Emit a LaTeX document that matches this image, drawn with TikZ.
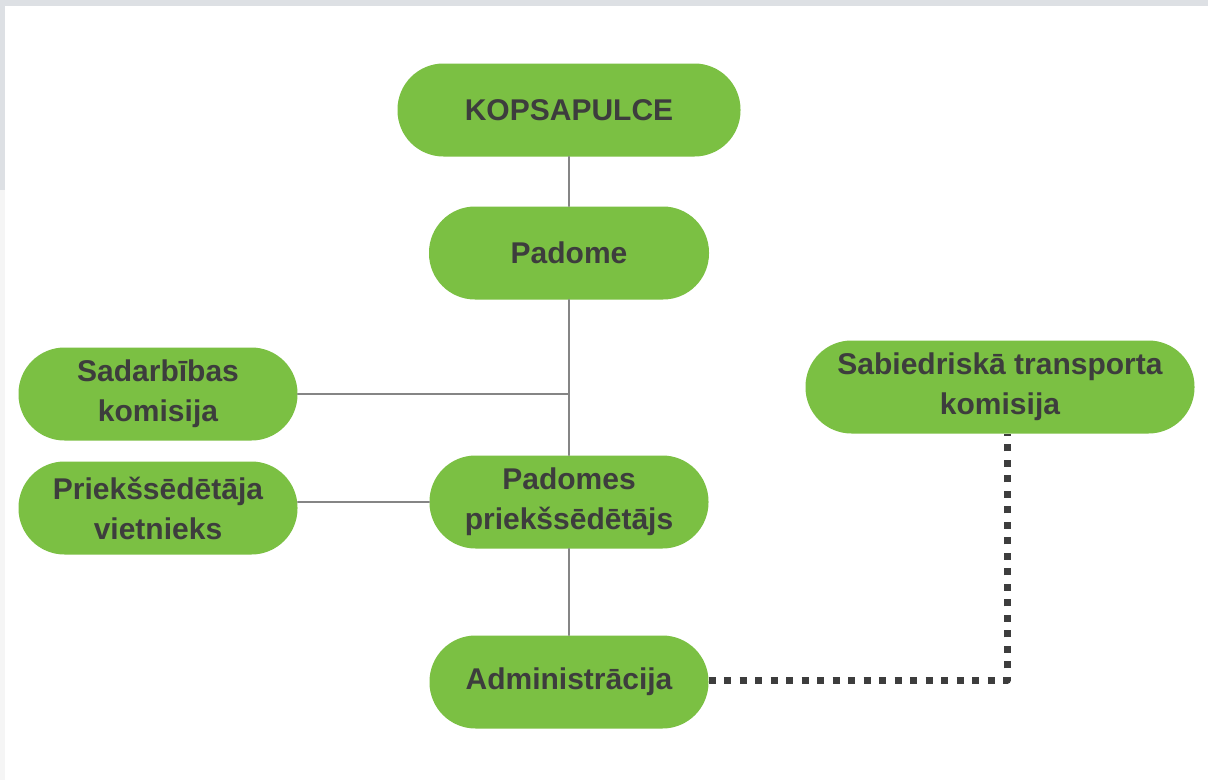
\documentclass[tikz,border=0pt]{standalone}
\usepackage{fontspec}
\setmainfont{Liberation Sans}
\definecolor{boxgreen}{HTML}{7BC043}
\definecolor{textgray}{HTML}{3D3D3D}
\definecolor{linegray}{HTML}{858585}
\definecolor{framegray}{HTML}{DDE0E4}
\begin{document}
\begin{tikzpicture}[line cap=round, line join=round, x=1pt, y=-1pt,
    box/.style={fill=boxgreen, rounded corners=46pt, minimum height=93pt, inner sep=0pt,
        align=center, text=textgray, font=\fontsize{30}{40}\selectfont\bfseries},
    link/.style={draw=linegray, line width=1.5pt},
    dotlink/.style={draw=textgray, line cap=butt, line width=7pt, dash pattern=on 7pt off 8.5pt}]

    \useasboundingbox (0,0) rectangle (1208,780);
    \fill[white] (0,0) rectangle (1208,780);
    \fill[framegray] (0,0) rectangle (1208,6);
    \fill[framegray] (0,0) rectangle (5,190);
    \fill[black!4] (0,190) rectangle (5,780);

    \node[box, minimum width=343pt] (kop) at (569,110) {KOPSAPULCE};
    \node[box, minimum width=280pt] (padome) at (569,253) {Padome};
    \node[box, minimum width=279pt] (sadarb) at (158,394) {Sadarbības\\komisija};
    \node[box, minimum width=279pt] (vietn) at (158,508) {Priekšsēdētāja\\vietnieks};
    \node[box, minimum width=279pt] (prieks) at (569,502) {Padomes\\priekšsēdētājs};
    \node[box, minimum width=279pt] (admin) at (569,682) {Administrācija};
    \node[box, minimum width=389pt] (sabtr) at (1000,387) {Sabiedriskā transporta\\komisija};

    \coordinate (bend) at (1007,680);

    \draw[link] (kop.south) -- (padome.north);
    \draw[link] (padome.south) -- (prieks.north);
    \draw[link] (sadarb.east) -- (sadarb.east -| padome.south);
    \draw[link] (vietn.east |- prieks.west) -- (prieks.west);
    \draw[link] (prieks.south) -- (admin.north);
    \draw[dotlink] (admin.east |- bend) -- (bend) -- (bend |- sabtr.south);

\end{tikzpicture}
\end{document}
